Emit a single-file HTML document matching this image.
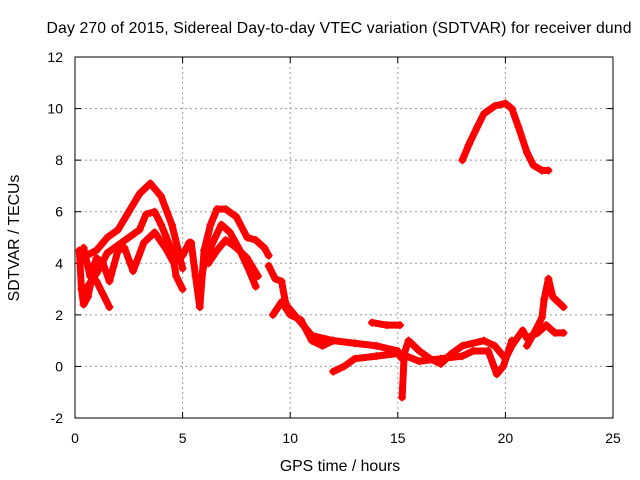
<!DOCTYPE html>
<html><head><meta charset="utf-8"><style>
body{margin:0;background:#fff}
svg{display:block;font-family:"Liberation Sans",sans-serif}
</style></head><body>
<svg id="chart" width="640" height="480" viewBox="0 0 640 480">
<rect width="640" height="480" fill="#fff"/>
<text x="339" y="33" font-size="15.8" text-anchor="middle" textLength="585">Day 270 of 2015, Sidereal Day-to-day VTEC variation (SDTVAR) for receiver dund</text>
<text x="340" y="471" font-size="15.8" text-anchor="middle">GPS time / hours</text>
<text transform="translate(19,238) rotate(-90)" font-size="15.8" text-anchor="middle">SDTVAR / TECUs</text>
<g id="grid"></g><g id="ticks"></g><g id="series"></g>
<rect x="75" y="57" width="538" height="361" fill="none" stroke="#000" stroke-width="1"/>
</svg>
<script>
const xTicks=[0,5,10,15,20,25];
const yTicks=[-2,0,2,4,6,8,10,12];
const s1=[[0.3,4.2],[1,4.5],[1.5,5.0],[2,5.3],[2.5,6.0],[3,6.7],[3.5,7.1],[4,6.6],[4.5,5.5],[4.8,4.5],[5,3.8]];
const s2=[[0.5,3.0],[1,3.6],[1.5,4.4],[2,4.7],[2.5,5.0],[3,5.3],[3.3,5.9],[3.7,6.0],[4,5.5],[4.5,4.5],[4.7,3.5],[5,3.0]];
const s3=[[0.4,4.6],[0.7,3.5],[1,4.2],[1.3,4.0],[1.6,3.3],[2,4.5],[2.3,4.6],[2.7,3.7],[3.2,4.8],[3.7,5.2],[4.2,4.6],[4.6,4.0],[5.0,4.3],[5.3,4.8]];
const s4=[[0.2,4.5],[0.3,3.0],[0.4,2.4],[0.6,2.7],[0.8,3.5],[1,3.3],[1.3,2.8],[1.6,2.3]];
const s5=[[5.4,4.8],[5.6,3.5],[5.8,2.3],[6,4.5],[6.3,5.5],[6.6,6.1],[7,6.1],[7.5,5.8],[8,5.0],[8.4,4.9],[8.8,4.6],[9,4.3]];
const s6=[[5.8,3.0],[6,4.0],[6.4,4.8],[6.8,5.5],[7.2,5.2],[7.6,4.6],[8,3.9],[8.4,3.1]];
const s7=[[6.2,4.0],[6.6,4.5],[7,4.9],[7.5,4.6],[8,4.2],[8.5,3.5]];
const s8=[[9,3.9],[9.3,3.4],[9.6,3.3],[9.8,2.4],[10.2,2.0],[10.6,1.6],[11,1.2],[12,1.0],[13,0.9],[14,0.8],[15,0.6]];
const s9=[[9.2,2.0],[9.6,2.5],[10,2.0],[10.5,1.8],[11,1.0],[11.5,0.8],[12,1.0]];
const s10=[[12,-0.2],[12.5,0.0],[13,0.3],[14,0.4],[15,0.5],[15.2,0.3]];
const s11=[[13.8,1.7],[14.5,1.6],[15.1,1.6]];
const s12=[[15.2,-1.2],[15.3,0.5],[15.5,1.0],[16,0.6],[16.5,0.3],[17,0.1],[17.5,0.5],[18,0.8],[19,1.0],[19.5,0.8],[20,0.3],[20.3,0.8],[20.8,1.4],[21,1.1]];
const s13=[[15.4,0.4],[16,0.2],[17,0.3],[18,0.4],[18.5,0.6],[19.2,0.6],[19.6,-0.3],[19.9,0.0],[20.3,1.0]];
const s14=[[21,0.8],[21.4,1.4],[21.7,1.9],[21.8,2.6],[22,3.4],[22.2,2.7],[22.7,2.3]];
const s15=[[21,1.1],[21.5,1.3],[21.9,1.6],[22.3,1.3],[22.7,1.3]];
const s16=[[18,8.0],[18.3,8.6],[18.7,9.3],[19,9.8],[19.5,10.1],[20,10.2],[20.3,10.0],[20.6,9.3],[21,8.3],[21.3,7.8],[21.7,7.6],[22,7.6]];
const allSeries=[s1,s2,s3,s4,s5,s6,s7,s8,s9,s10,s11,s12,s13,s14,s15,s16];
const X=v=>75+v*538/25;
const Y=v=>418-(v+2)*361/14;
const NS='http://www.w3.org/2000/svg';
function mk(t,a,p){const e=document.createElementNS(NS,t);for(const k in a)e.setAttribute(k,a[k]);p.appendChild(e);return e;}
const grid=document.getElementById('grid'),ticks=document.getElementById('ticks'),ser=document.getElementById('series');
xTicks.forEach(t=>{
  if(t>0&&t<25){const g=mk('line',{x1:X(t),x2:X(t),y1:57,y2:418,stroke:'#999','stroke-dasharray':'2,3'},grid);
  
  }
  mk('line',{x1:X(t),x2:X(t),y1:418,y2:412,stroke:'#000'},ticks);
  mk('line',{x1:X(t),x2:X(t),y1:57,y2:63,stroke:'#000'},ticks);
  const l=mk('text',{x:X(t),y:443,'font-size':14,'text-anchor':'middle'},ticks);l.textContent=t;
  
  
});
yTicks.forEach(t=>{
  if(t>-2&&t<12){const g=mk('line',{x1:75,x2:613,y1:Y(t),y2:Y(t),stroke:'#999','stroke-dasharray':'2,3'},grid);
  
  }
  mk('line',{x1:75,x2:81,y1:Y(t),y2:Y(t),stroke:'#000'},ticks);
  mk('line',{x1:607,x2:613,y1:Y(t),y2:Y(t),stroke:'#000'},ticks);
  const l=mk('text',{x:63,y:Y(t)+5,'font-size':14,'text-anchor':'end'},ticks);l.textContent=t;
  
  
});
allSeries.forEach((s,i)=>{
  const pl=mk('polyline',{points:s.map(p=>X(p[0])+','+Y(p[1])).join(' '),fill:'none',stroke:'#f00','stroke-width':7,'stroke-linejoin':'round','stroke-linecap':'round'},ser);
  
  
  s.forEach(p=>{
    const m=mk('path',{d:`M${X(p[0])-4},${Y(p[1])}h8M${X(p[0])},${Y(p[1])-4}v8`,stroke:'#f00','stroke-width':1.5},ser);
    
    
  });
});
</script>
</body></html>
